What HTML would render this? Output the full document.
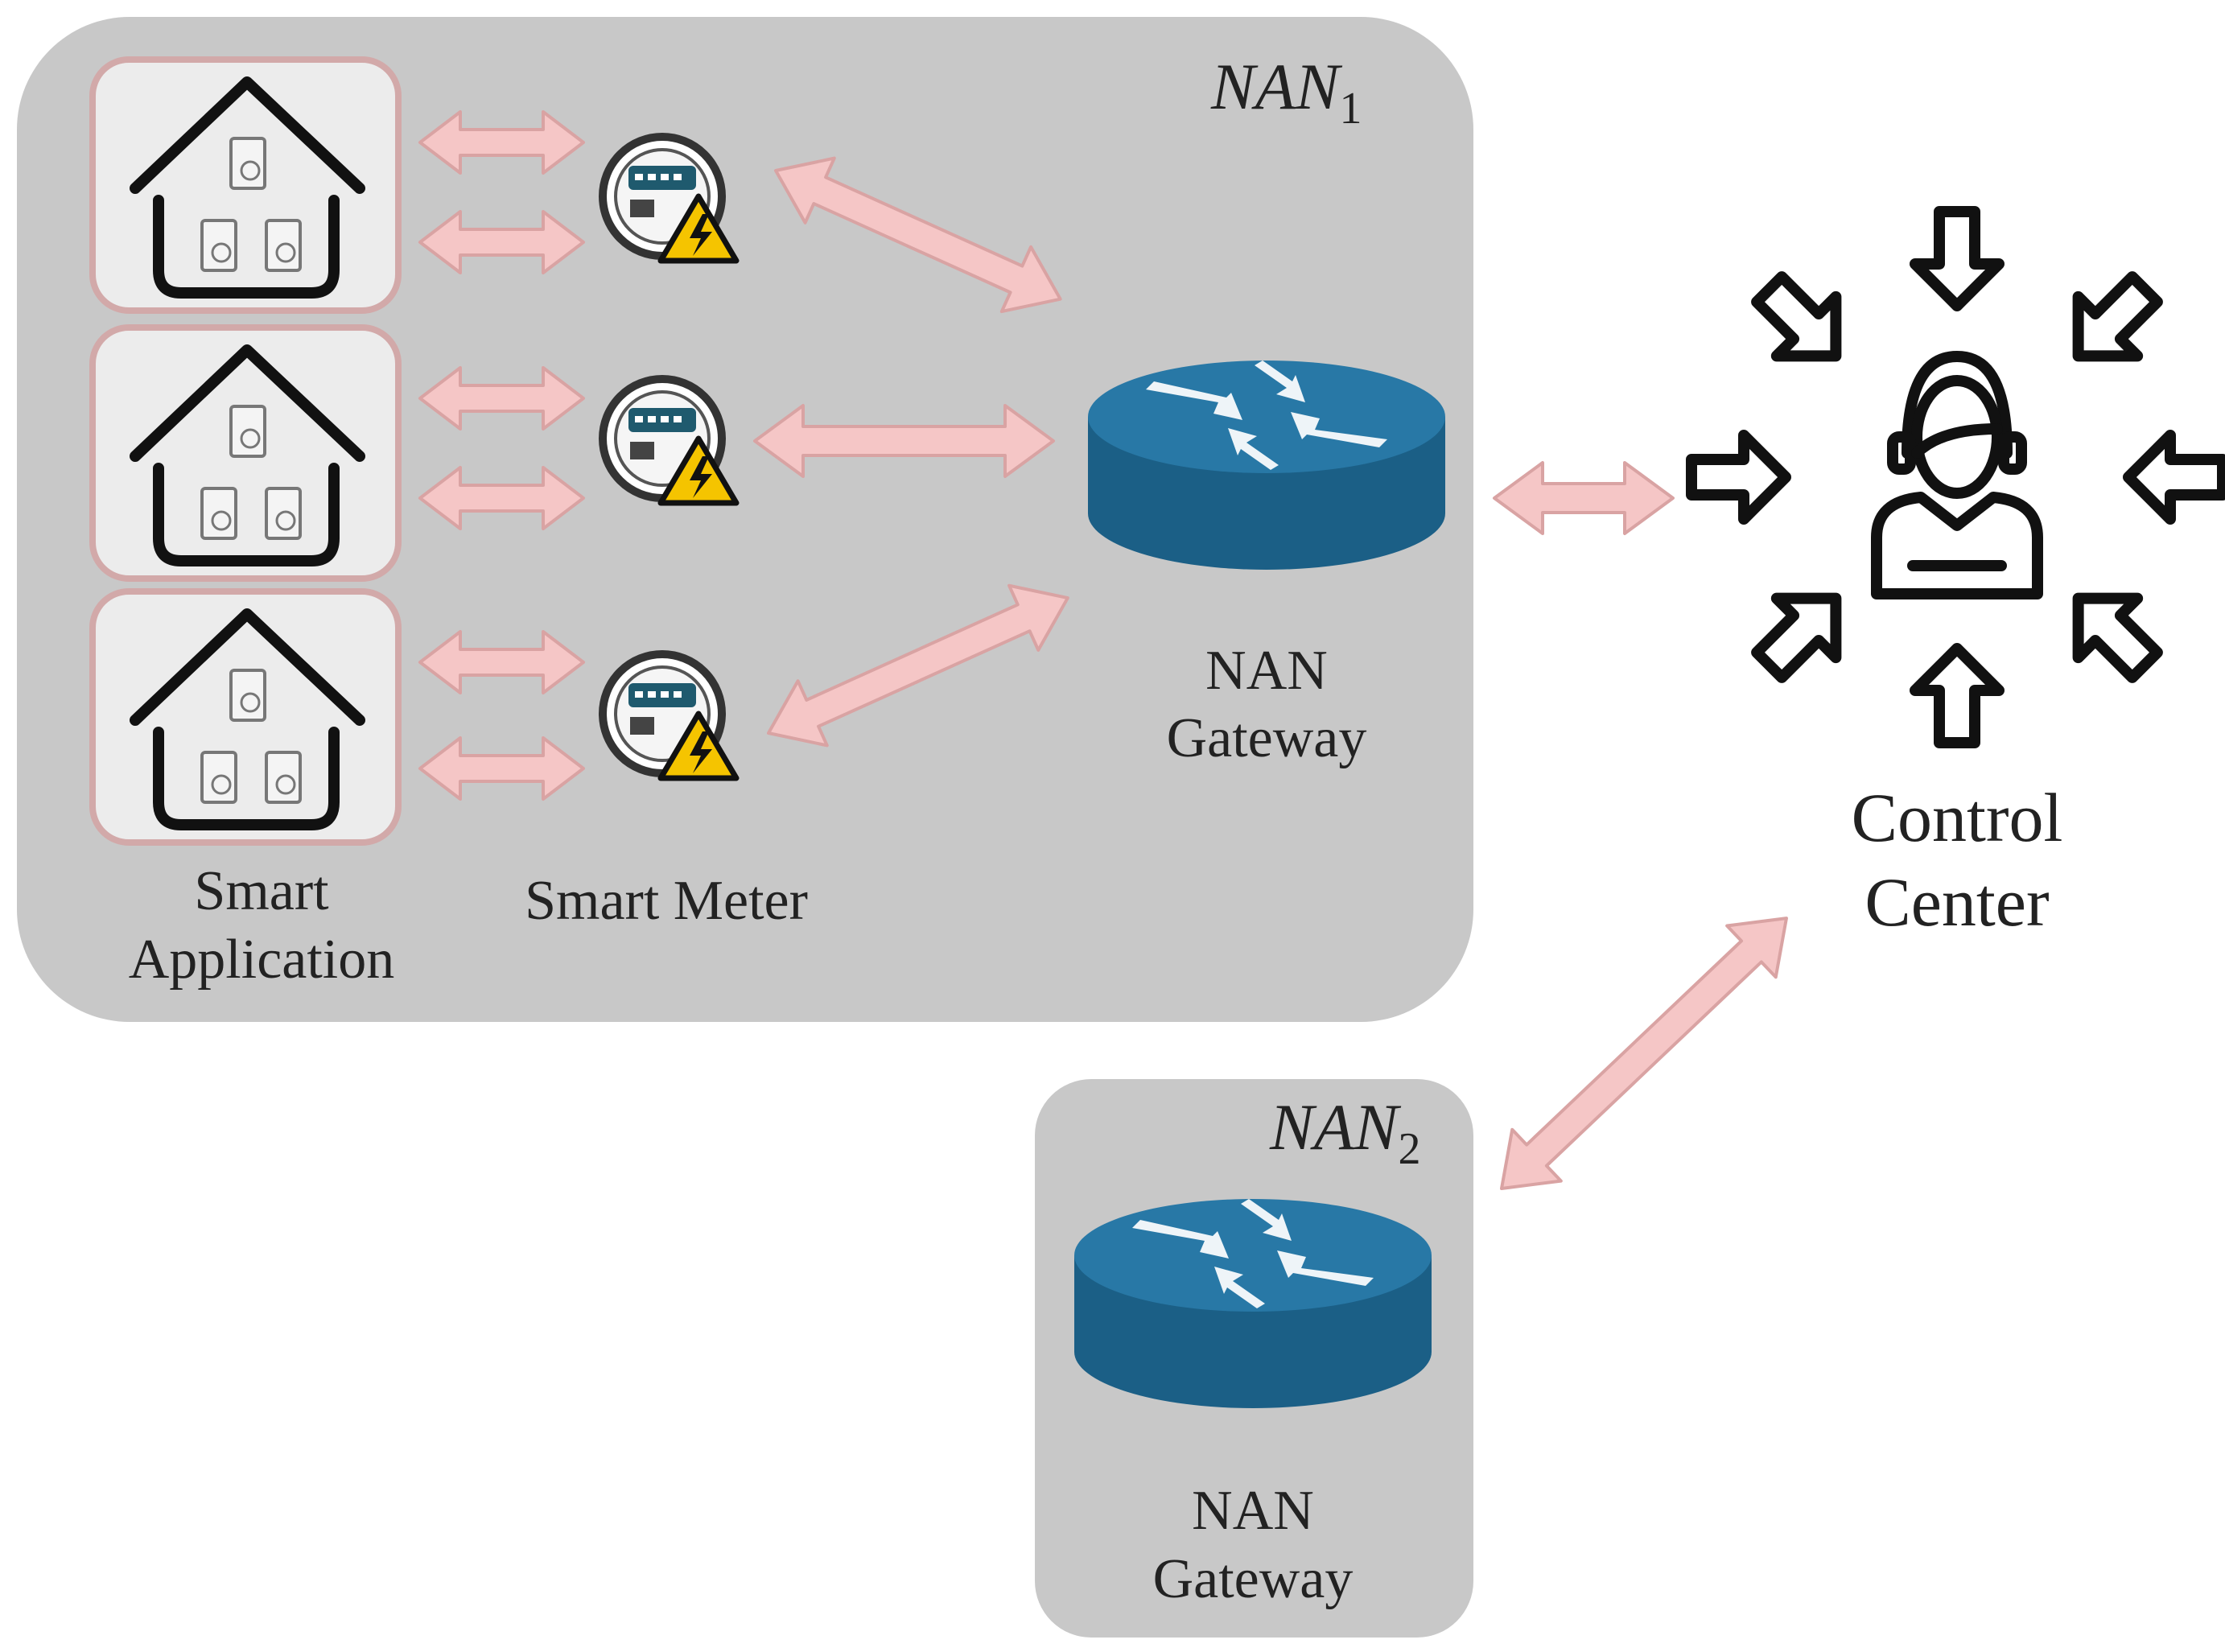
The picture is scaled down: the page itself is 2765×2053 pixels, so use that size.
<!DOCTYPE html>
<html><head><meta charset="utf-8"><style>
html,body{margin:0;padding:0;background:#fff;}
svg{display:block;}
text{font-family:"Liberation Serif",serif;fill:#222;}
</style></head><body>
<svg width="2765" height="2053" viewBox="0 0 2765 2053" xmlns="http://www.w3.org/2000/svg">
<defs>
<g id="house">
  <rect x="0" y="0" width="380" height="312" rx="45" fill="#ececec" stroke="#d2a9a9" stroke-width="8"/>
  <polyline points="53,160 192,28 332,160" fill="none" stroke="#111" stroke-width="14" stroke-linecap="round" stroke-linejoin="round"/>
  <path d="M82,175 V262 Q82,290 110,290 H272 Q300,290 300,262 V175" fill="none" stroke="#111" stroke-width="14" stroke-linecap="round"/>
  <g fill="#f4f4f4" stroke="#777" stroke-width="4">
    <rect x="172" y="98" width="42" height="62" rx="4"/>
    <rect x="136" y="200" width="42" height="62" rx="4"/>
    <rect x="216" y="200" width="42" height="62" rx="4"/>
  </g>
  <g fill="none" stroke="#777" stroke-width="3">
    <circle cx="196" cy="138" r="11"/><circle cx="160" cy="240" r="11"/><circle cx="240" cy="240" r="11"/>
  </g>
</g>
<g id="meter">
  <circle cx="0" cy="0" r="74" fill="#fff" stroke="#333" stroke-width="10"/>
  <circle cx="0" cy="0" r="58" fill="#f5f5f5" stroke="#555" stroke-width="4"/>
  <rect x="-42" y="-38" width="84" height="30" rx="6" fill="#1f5a6e"/>
  <g fill="#fff"><rect x="-34" y="-28" width="10" height="8"/><rect x="-18" y="-28" width="10" height="8"/><rect x="-2" y="-28" width="10" height="8"/><rect x="14" y="-28" width="10" height="8"/></g>
  <rect x="-40" y="4" width="30" height="22" fill="#444"/>
  <polygon points="45,0 92,80 -2,80" fill="#f5c400" stroke="#111" stroke-width="7" stroke-linejoin="round"/>
  <polygon points="50,22 34,52 48,52 38,74 62,44 48,44 58,22" fill="#111"/>
</g>
<g id="router">
  <path d="M-222,0 V120 A222,70 0 0 0 222,120 V0 Z" fill="#1b5f86"/>
  <ellipse cx="0" cy="0" rx="222" ry="70" fill="#2878a6"/>
  <g fill="#eef4f8">
    <polygon points="-150,-34 -60,-18 -66,-4 -30,4 -44,-30 -50,-24 -140,-44"/>
    <polygon points="150,28 60,16 66,2 30,-6 44,28 50,22 140,38"/>
    <polygon points="-15,-64 25,-36 12,-28 48,-18 36,-52 32,-44 -5,-70"/>
    <polygon points="15,60 -25,32 -12,24 -48,14 -36,48 -32,40 5,66"/>
  </g>
</g>
<g id="inarrow">
  <polygon points="20,-52 72,0 20,52 20,22 -45,22 -45,-22 20,-22" fill="#fff" stroke="#111" stroke-width="14" stroke-linejoin="round"/>
</g>
</defs>

<rect x="21" y="21" width="1810" height="1249" rx="140" fill="#c8c8c8"/>
<text x="1505" y="135" font-size="82" font-style="italic">NAN<tspan font-size="56" dy="18" font-style="normal">1</tspan></text>

<use href="#house" x="115" y="74"/>
<use href="#house" x="115" y="407"/>
<use href="#house" x="115" y="735"/>

<use href="#meter" x="823" y="244"/>
<use href="#meter" x="823" y="545"/>
<use href="#meter" x="823" y="887"/>

<g fill="#f5c6c6" stroke="#d9a3a3" stroke-width="4" stroke-linejoin="round">
  <g transform="translate(522,177)"><polygon points="0,0 50,-38 50,-16 153,-16 153,-38 203,0 153,38 153,16 50,16 50,38"/></g>
  <g transform="translate(522,301)"><polygon points="0,0 50,-38 50,-16 153,-16 153,-38 203,0 153,38 153,16 50,16 50,38"/></g>
  <g transform="translate(522,495)"><polygon points="0,0 50,-38 50,-16 153,-16 153,-38 203,0 153,38 153,16 50,16 50,38"/></g>
  <g transform="translate(522,619)"><polygon points="0,0 50,-38 50,-16 153,-16 153,-38 203,0 153,38 153,16 50,16 50,38"/></g>
  <g transform="translate(522,823)"><polygon points="0,0 50,-38 50,-16 153,-16 153,-38 203,0 153,38 153,16 50,16 50,38"/></g>
  <g transform="translate(522,955)"><polygon points="0,0 50,-38 50,-16 153,-16 153,-38 203,0 153,38 153,16 50,16 50,38"/></g>
  <g transform="translate(964,212) rotate(24.3)"><polygon points="0,0 60,-44 60,-18 328,-18 328,-44 388,0 328,44 328,18 60,18 60,44"/></g>
  <g transform="translate(938,548)"><polygon points="0,0 60,-44 60,-18 311,-18 311,-44 371,0 311,44 311,18 60,18 60,44"/></g>
  <g transform="translate(955,911) rotate(-24.3)"><polygon points="0,0 60,-44 60,-18 348,-18 348,-44 408,0 348,44 348,18 60,18 60,44"/></g>
  <g transform="translate(1857,619)"><polygon points="0,0 60,-44 60,-18 162,-18 162,-44 222,0 162,44 162,18 60,18 60,44"/></g>
  <g transform="translate(1866,1477) rotate(-43.5)"><polygon points="0,0 60,-44 60,-18 428,-18 428,-44 488,0 428,44 428,18 60,18 60,44"/></g>
</g>

<use href="#router" x="1574" y="518"/>
<text x="1574" y="856" font-size="70" text-anchor="middle">NAN</text>
<text x="1574" y="940" font-size="70" text-anchor="middle">Gateway</text>

<text x="325" y="1130" font-size="70" text-anchor="middle">Smart</text>
<text x="325" y="1215" font-size="70" text-anchor="middle">Application</text>
<text x="828" y="1142" font-size="70" text-anchor="middle">Smart Meter</text>

<rect x="1286" y="1341" width="545" height="694" rx="70" fill="#c8c8c8"/>
<text x="1578" y="1428" font-size="82" font-style="italic">NAN<tspan font-size="56" dy="18" font-style="normal">2</tspan></text>
<use href="#router" x="1557" y="1560"/>
<text x="1557" y="1900" font-size="70" text-anchor="middle">NAN</text>
<text x="1557" y="1985" font-size="70" text-anchor="middle">Gateway</text>

<g transform="translate(2432,593)">
  <g transform="rotate(0) translate(-285,0)"><use href="#inarrow"/></g>
  <g transform="rotate(45) translate(-285,0)"><use href="#inarrow"/></g>
  <g transform="rotate(90) translate(-285,0)"><use href="#inarrow"/></g>
  <g transform="rotate(135) translate(-285,0)"><use href="#inarrow"/></g>
  <g transform="rotate(180) translate(-285,0)"><use href="#inarrow"/></g>
  <g transform="rotate(225) translate(-285,0)"><use href="#inarrow"/></g>
  <g transform="rotate(270) translate(-285,0)"><use href="#inarrow"/></g>
  <g transform="rotate(315) translate(-285,0)"><use href="#inarrow"/></g>
  <g fill="none" stroke="#111" stroke-width="14" stroke-linecap="round" stroke-linejoin="round">
    <path d="M-62,-30 Q-62,-150 0,-150 Q62,-150 62,-30"/>
    <ellipse cx="0" cy="-50" rx="50" ry="70"/>
    <rect x="-80" y="-50" width="22" height="40" rx="8"/>
    <rect x="58" y="-50" width="22" height="40" rx="8"/>
    <path d="M-50,-30 Q-20,-60 50,-60"/>
    <path d="M-100,145 V75 Q-100,30 -45,25 L0,60 L45,25 Q100,30 100,75 V145 Z"/>
    <path d="M-55,110 H55"/>
  </g>
</g>
<text x="2432" y="1045" font-size="86" text-anchor="middle">Control</text>
<text x="2432" y="1150" font-size="86" text-anchor="middle">Center</text>
</svg>
</body></html>
